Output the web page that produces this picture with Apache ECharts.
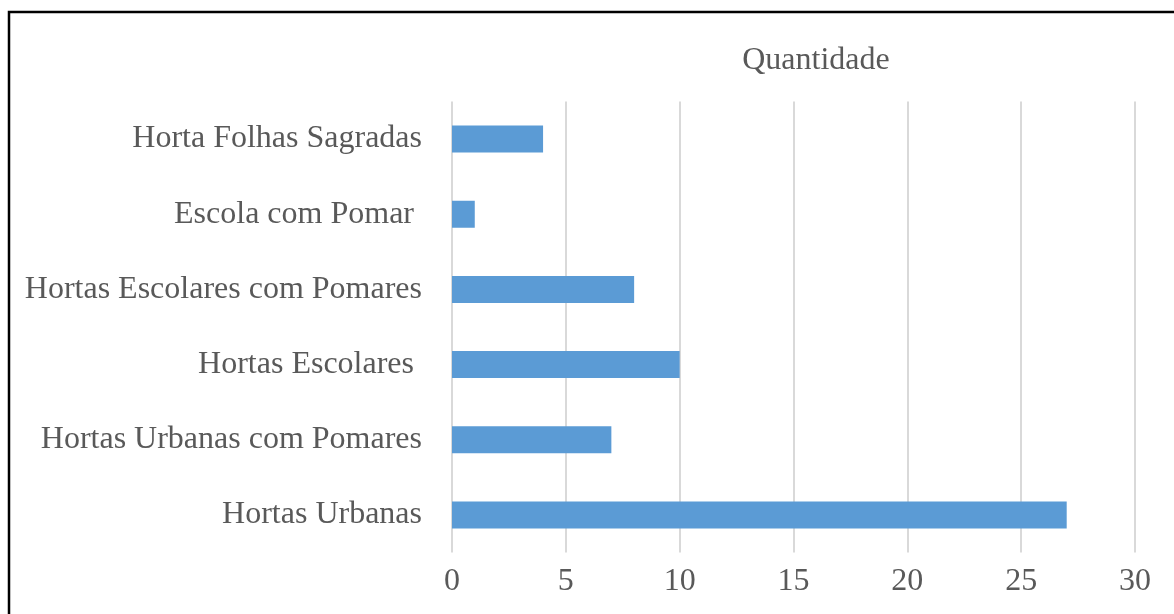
<!DOCTYPE html>
<html>
<head>
<meta charset="utf-8">
<script src="https://cdn.jsdelivr.net/npm/echarts@6/dist/echarts.min.js"></script>
<style>
  html, body { margin: 0; padding: 0; background: #fff; }
  #chart { width: 1174px; height: 614px; }
</style>
</head>
<body>
<div id="chart"></div>
<script>
// categories listed bottom to top, as the y axis draws them
const categories = [
  "Hortas Urbanas",
  "Hortas Urbanas com Pomares",
  "Hortas Escolares ",
  "Hortas Escolares com Pomares",
  "Escola com Pomar ",
  "Horta Folhas Sagradas"
];
const quantidade = [27, 7, 10, 8, 1, 4];
const seriesName = "Quantidade";

const font = "'Liberation Serif', 'Times New Roman', serif";
const grey = "#595959";

const chart = echarts.init(document.getElementById("chart"), null, { renderer: "canvas" });
chart.setOption({
  backgroundColor: "#fff",
  animation: false,
  title: {
    text: seriesName,
    left: 811, top: 40, textAlign: "center",
    textStyle: { fontFamily: font, fontSize: 32, fontWeight: "normal", color: grey }
  },
  graphic: [{
    type: "rect",
    shape: { x: 9, y: 12, width: 1200, height: 700 },
    style: { fill: "none", stroke: "#000", lineWidth: 2.5 },
    silent: true
  }],
  grid: { left: 452, right: 39, top: 101.5, bottom: 61.5, containLabel: false },
  xAxis: {
    type: "value", min: 0, max: 30, interval: 5,
    axisLine: { show: false }, axisTick: { show: false },
    splitLine: { show: true, lineStyle: { color: "#d9d9d9", width: 2 } },
    axisLabel: { fontFamily: font, fontSize: 32, color: grey, margin: 13 }
  },
  yAxis: {
    type: "category", data: categories,
    axisLine: { show: false }, axisTick: { show: false },
    axisLabel: { fontFamily: font, fontSize: 32, color: grey, margin: 30 }
  },
  series: [{
    name: seriesName, type: "bar", data: quantidade,
    barWidth: 27,
    itemStyle: { color: "#5b9bd5" }
  }]
});
</script>
</body>
</html>
